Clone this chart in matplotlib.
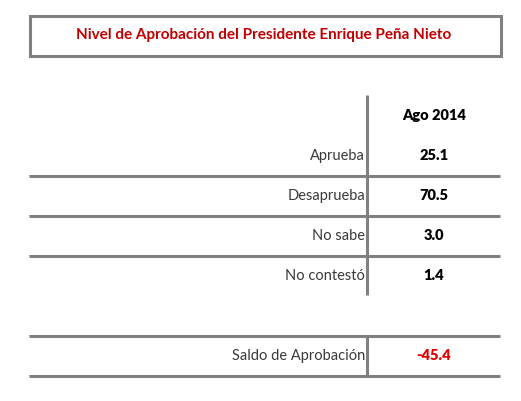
import matplotlib.pyplot as plt
from matplotlib.patches import Rectangle

# datos
titulo = 'Nivel de Aprobación del Presidente Enrique Peña Nieto'
periodo = 'Ago 2014'
categorias = ['Aprueba', 'Desaprueba', 'No sabe', 'No contestó']
valores = [25.1, 70.5, 3.0, 1.4]
saldo_etiqueta = 'Saldo de Aprobación'
saldo_valor = -45.4

plt.rcParams['font.family'] = ['Lato', 'DejaVu Sans']

gris = '#808080'
fig = plt.figure(figsize=(5.21, 4.01), dpi=100)
ax = fig.add_axes([0, 0, 1, 1])
ax.set_xlim(0, 521)
ax.set_ylim(401, 0)
ax.axis('off')

# recuadro del titulo
ax.add_patch(Rectangle((29.5, 15.5), 471, 40, fill=False, edgecolor=gris, lw=2.2))
ax.text(264, 35.5, titulo, ha='center', va='center', color='#C00000',
        fontsize=11, fontweight='bold')

x_div = 367
x_val = 434
y0 = 156
paso = 40
fs = 10.5

ax.text(x_val, 116, periodo, ha='center', va='center', fontsize=fs, fontweight='heavy')

for i, (cat, v) in enumerate(zip(categorias, valores)):
    y = y0 + paso * i
    ax.text(x_div - 2, y, cat, ha='right', va='center', fontsize=fs, color='#3a3a3a')
    ax.text(x_val, y, f'{v:.1f}', ha='center', va='center', fontsize=fs,
            fontweight='heavy', color='black')
    if i < len(categorias) - 1:
        ax.plot([29, 500], [y + 19.5, y + 19.5], color=gris, lw=2.2, solid_capstyle='butt')

ax.plot([x_div, x_div], [95, y0 + paso * 3 + 19], color=gris, lw=2.2, solid_capstyle='butt')

# saldo
ys = 356
ax.plot([29, 500], [ys - 20.5, ys - 20.5], color=gris, lw=2.2, solid_capstyle='butt')
ax.plot([29, 500], [ys + 19.5, ys + 19.5], color=gris, lw=2.2, solid_capstyle='butt')
ax.plot([x_div, x_div], [ys - 20.5, ys + 19.5], color=gris, lw=2.2, solid_capstyle='butt')
ax.text(x_div - 2, ys, saldo_etiqueta, ha='right', va='center', fontsize=fs, color='#3a3a3a')
ax.text(x_val, ys, f'{saldo_valor:.1f}', ha='center', va='center', fontsize=fs,
        fontweight='heavy', color='#E00000')

fig.savefig('out.png', dpi=100, facecolor='white')
